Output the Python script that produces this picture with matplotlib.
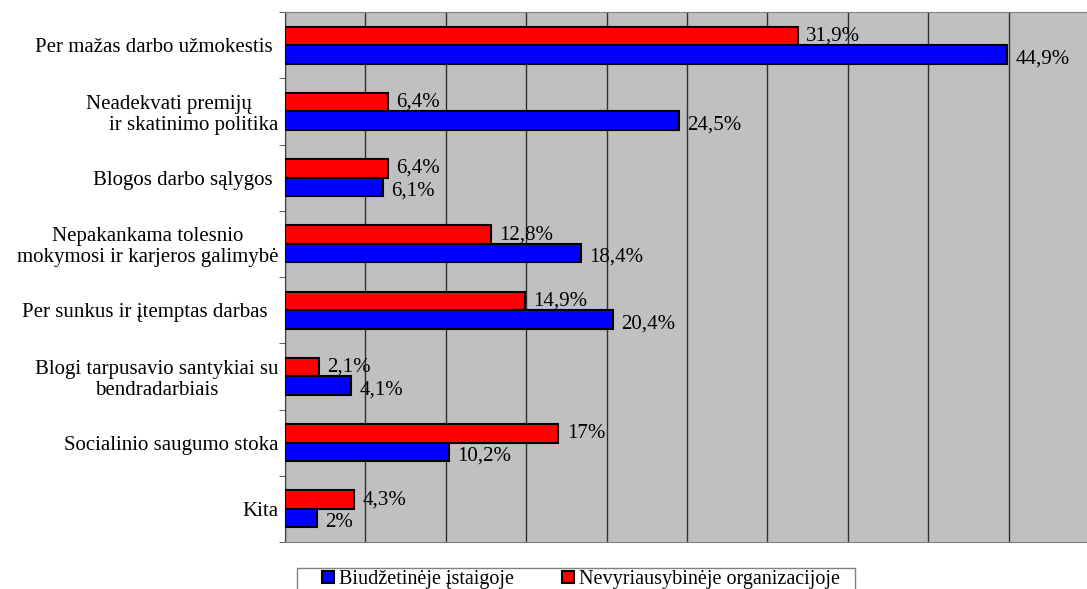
import matplotlib.pyplot as plt
from matplotlib.lines import Line2D
from matplotlib.patches import Rectangle
import numpy as np

plt.rcParams['font.family'] = ['Liberation Serif', 'DejaVu Serif']

categories = ['Per mažas darbo užmokestis ',
              'Neadekvati premijų     \nir skatinimo politika',
              'Blogos darbo sąlygos ',
              'Nepakankama tolesnio\nmokymosi ir karjeros galimybė',
              'Per sunkus ir įtemptas darbas  ',
              'Blogi tarpusavio santykiai su\nbendradarbiais',
              'Socialinio saugumo stoka',
              'Kita']
biudzetines = [44.9, 24.5, 6.1, 18.4, 20.4, 4.1, 10.2, 2.0]
nvo = [31.9, 6.4, 6.4, 12.8, 14.9, 2.1, 17.0, 4.3]
series_names = ['Biudžetinėje įstaigoje', 'Nevyriausybinėje organizacijoje']


def fmt(v):
    return f'{v:g}'.replace('.', ',') + '%'


fs = 15
fig = plt.figure(figsize=(10.87, 5.89), dpi=100)
ax = fig.add_axes([285 / 1087, 1 - 542 / 589, 804 / 1087, 530 / 589])
ax.set_facecolor('#c0c0c0')

y = np.arange(len(categories))
h = 0.28
ax.barh(y - h / 2, nvo, height=h, color='#ff0000', edgecolor='black', linewidth=1.5, zorder=3)
ax.barh(y + h / 2, biudzetines, height=h, color='#0000ff', edgecolor='black', linewidth=1.5, zorder=3)

for yi, v in zip(y, nvo):
    ax.annotate(fmt(v), (v, yi - h / 2), xytext=(6, 0), textcoords='offset points',
                va='center', ha='left', fontsize=fs, zorder=4)
for yi, v in zip(y, biudzetines):
    ax.annotate(fmt(v), (v, yi + h / 2), xytext=(6, -3), textcoords='offset points',
                va='center', ha='left', fontsize=fs, zorder=4)

ax.set_xlim(0, 50)
ax.set_ylim(len(categories) - 0.5, -0.5)
ax.set_xticks(np.arange(0, 51, 5))
ax.tick_params(axis='x', length=0, labelbottom=False)
ax.grid(axis='x', color='#303030', linewidth=1, zorder=1)

ax.set_yticks(y)
ax.set_yticklabels(categories, fontsize=fs, multialignment='center', linespacing=1.15)
ax.get_yticklabels()[1].set_multialignment('right')
ax.set_yticks(np.arange(len(categories) + 1) - 0.5, minor=True)
ax.tick_params(axis='y', which='major', length=0, pad=5)
ax.tick_params(axis='y', which='minor', length=4, color='#404040')

for s in ['top', 'bottom']:
    ax.spines[s].set_color('#808080')
ax.spines['right'].set_visible(False)
ax.spines['left'].set_color('#404040')

# legend frame (bottom is cut by the figure edge)
fig.patches.append(Rectangle((297 / 1087, 1 - 600 / 589), (855 - 297) / 1087, 32 / 589,
                             transform=fig.transFigure, facecolor='white',
                             edgecolor='#808080', linewidth=1))

handles = [Line2D([], [], marker='s', linestyle='none', markersize=8,
                  markerfacecolor=c, markeredgecolor='black', markeredgewidth=1.5)
           for c in ['#0000ff', '#ff0000']]
leg = fig.legend(handles, series_names, loc='upper left',
                 bbox_to_anchor=(320 / 1087, 1 - 570 / 589), ncol=2,
                 fontsize=14.5, frameon=False, handlelength=0.8,
                 handletextpad=0.15, columnspacing=2.25, borderpad=0,
                 borderaxespad=0)

fig.savefig('out.png', dpi=100)
